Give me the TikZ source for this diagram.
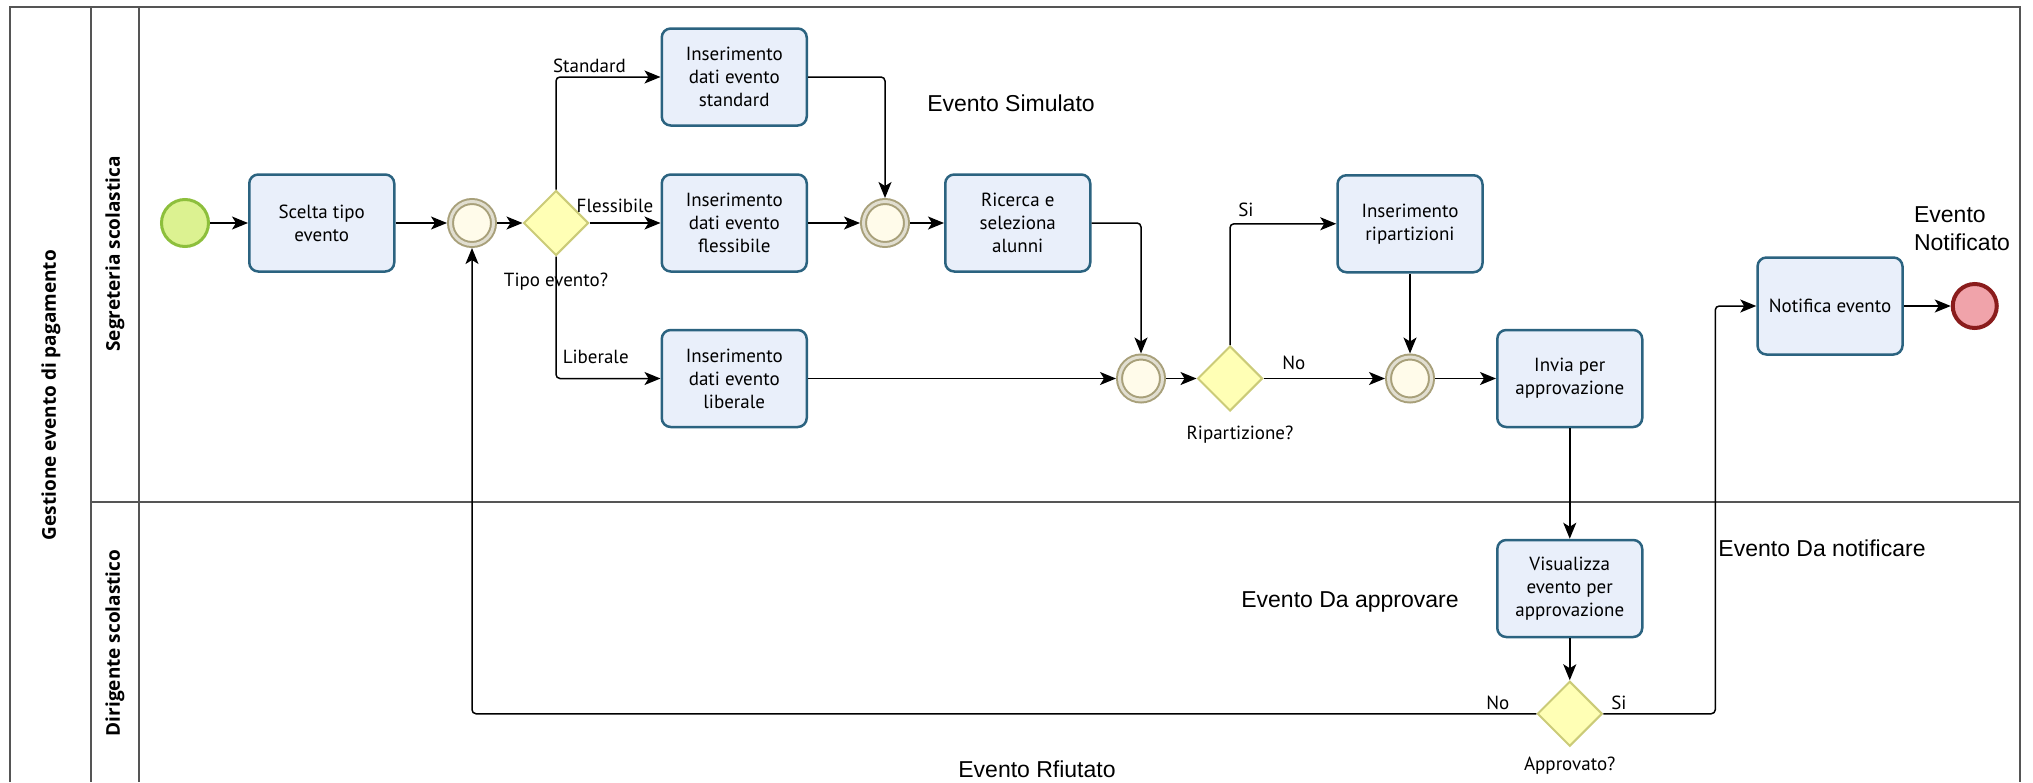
\documentclass[tikz,border=0pt]{standalone}
\usepackage{fontspec}
\setmainfont{PT Sans}
\newfontfamily\annofont{Liberation Sans}
\newfontfamily\lanefont{Open Sans}
\usetikzlibrary{shapes.geometric, arrows.meta, positioning}

\definecolor{taskfill}{HTML}{E9EFFA}
\definecolor{taskline}{HTML}{2B6380}
\definecolor{startfill}{HTML}{DCF291}
\definecolor{startline}{HTML}{8DBF3C}
\definecolor{endfill}{HTML}{F0A3AA}
\definecolor{endline}{HTML}{8A1C1C}
\definecolor{gatefill}{HTML}{FFFFB5}
\definecolor{gateline}{HTML}{CBCB78}
\definecolor{ringline}{HTML}{A8A07A}
\definecolor{ringfill}{HTML}{FFFBEA}
\definecolor{poolline}{HTML}{555555}

\tikzstyle{arrow} = [line width=1.5pt, -{Stealth[length=16pt,width=13pt,inset=4pt]}, rounded corners=4pt]
\tikzstyle{task} = [rectangle, rounded corners=9pt, minimum width=145pt, minimum height=97pt, align=center, fill=taskfill, draw=taskline, line width=2.5pt, font=\fontsize{19pt}{23pt}\selectfont]
\tikzstyle{gateway} = [diamond, minimum width=65pt, minimum height=65pt, inner sep=0pt, fill=gatefill, draw=gateline, line width=2pt]
\tikzstyle{merge} = [circle, minimum size=43pt, inner sep=0pt, outer sep=3.5pt, fill=ringfill, draw=ringline, line width=2pt, double=ringline!35, double distance=3pt]
\tikzstyle{startevent} = [circle, minimum size=47pt, inner sep=0pt, fill=startfill, draw=startline, line width=3pt]
\tikzstyle{endevent} = [circle, minimum size=44pt, inner sep=0pt, fill=endfill, draw=endline, line width=4pt]
\tikzstyle{pool} = [draw=poolline, line width=1.5pt]
\tikzset{
	lbl/.style = {inner sep=2pt, font=\fontsize{19pt}{23pt}\selectfont},
	anno/.style = {inner sep=0pt, font=\annofont\fontsize{23pt}{28pt}\selectfont},
	lanelabel/.style = {rotate=90, inner sep=0pt, font=\lanefont\bfseries\fontsize{19pt}{22pt}\selectfont}
}

\begin{document}
\begin{tikzpicture}[x=1pt, y=-1pt]
\useasboundingbox (0,0) rectangle (2033,782);
%----------------------------------------------------------------------------
% Pool and lanes
\draw[pool] (10,782) -- (10,7) -- (2020,7) -- (2020,782);
\draw[pool] (91,7) -- (91,782);
\draw[pool] (139,7) -- (139,782);
\draw[pool] (91,502) -- (2020,502);

\node (poolName) [lanelabel] at (51,395) {Gestione evento di pagamento};
\node (laneSegreteria) [lanelabel] at (115,254) {Segreteria scolastica};
\node (laneDirigente) [lanelabel] at (115,643) {Dirigente scolastico};

%----------------------------------------------------------------------------
% Placement of process nodes
\node (start) [startevent] at (185,223) {};
\node (scelta) [task, right = 38pt of start] {Scelta tipo\\evento};
\node (mergeA) [merge, right = 51.5pt of scelta] {};
\node (tipo) [gateway, right = 25.5pt of mergeA] {};
\node (tipoLbl) [lbl, below = 14pt of tipo] {Tipo evento?};

\node (flessibile) [task, right = 71pt of tipo] {Inserimento\\dati evento\\flessibile};
\node (standard) [task, above = 46.5pt of flessibile] {Inserimento\\dati evento\\standard};
\node (liberale) [task, below = 56pt of flessibile] {Inserimento\\dati evento\\liberale};

\node (mergeB) [merge, right = 52pt of flessibile] {};
\node (ricerca) [task, right = 34pt of mergeB] {Ricerca e\\seleziona\\alunni};

\node (mergeC) [merge, right = 308pt of liberale] {};
\node (ripart) [gateway, right = 30.5pt of mergeC] {};
\node (ripartLbl) [lbl, below = 12pt of ripart, xshift=10pt] {Ripartizione?};
\node (mergeD) [merge, right = 121.5pt of ripart] {};
\node (insRipart) [task, above = 80pt of mergeD] {Inserimento\\ripartizioni};
\node (invia) [task, right = 61pt of mergeD] {Invia per\\approvazione};

% dirigente lane
\node (visualizza) [task, below = 110.5pt of invia] {Visualizza\\evento per\\approvazione};
\node (approvato) [gateway, below = 42pt of visualizza] {};
\node (approvatoLbl) [lbl, below = 8pt of approvato] {Approvato?};

\node (notifica) [task] at (1830,306) {Notifica evento};
\node (fine) [endevent, right = 47pt of notifica] {};

%----------------------------------------------------------------------------
% Annotations
\node (simulato) [anno] at (1011,103) {Evento Simulato};
\node (daApprovare) [anno] at (1350,602) {Evento Da approvare};
\node (daNotificare) [anno] at (1822,548) {Evento Da notificare};
\node (rifiutato) [anno] at (1037,769) {Evento Rfiutato};
\node (notificato) [anno, align=left] at (1962,229) {Evento\\Notificato};

%----------------------------------------------------------------------------
% Draw lines
\draw [arrow] (start) -- (scelta);
\draw [arrow] (scelta) -- (mergeA);
\draw [arrow] (mergeA) -- (tipo);
\draw [arrow] (flessibile) -- (mergeB);
\draw [arrow] (mergeB) -- (ricerca);
\draw [arrow] (standard.east) -| (mergeB.north);
\draw [arrow] (ricerca.east) -| (mergeC.north);
\draw [arrow] (liberale) -- (mergeC);
\draw [arrow] (mergeC) -- (ripart);
\draw [arrow] (insRipart) -- (mergeD);
\draw [arrow] (mergeD) -- (invia);
\draw [arrow] (invia) -- (visualizza);
\draw [arrow] (visualizza) -- (approvato);
\draw [arrow] (notifica) -- (fine);

%----------------------------------------------------------------------------
% Draw Decision Lines
\draw [arrow] (tipo.north) |- node[lbl, above=2pt, pos=0.66] {Standard} (standard.west);
\draw [arrow] (tipo.east) -- node[lbl, above=8pt, pos=0.36] {Flessibile} (flessibile.west);
\draw [arrow] (tipo.south) |- node[lbl, above=12pt, pos=0.69] {Liberale} (liberale.west);

\draw [arrow] (ripart.north) |- node[lbl, above=4pt, pos=0.575] {Si} (insRipart.west);
\draw [arrow] (ripart.east) -- node[lbl, above=6pt, pos=0.25] {No} (mergeD.west);

\draw [arrow] (approvato.west) -| node[lbl, above=1pt, pos=0.018] {No} (mergeA.south);
\draw [arrow] (approvato.east) -- node[lbl, above=1pt, pos=0.14] {Si} ([xshift=112pt]approvato.east) |- (notifica.west);

\end{tikzpicture}
\end{document}
